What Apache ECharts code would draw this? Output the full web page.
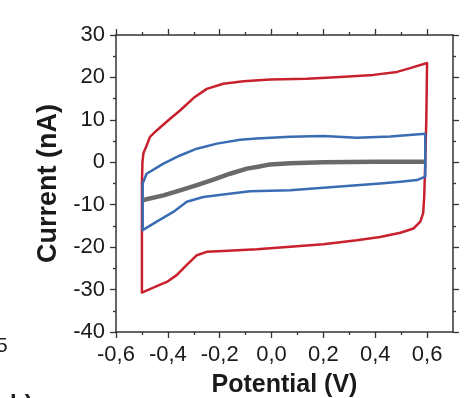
<!DOCTYPE html>
<html>
<head>
<meta charset="utf-8">
<script src="https://cdn.jsdelivr.net/npm/echarts@6/dist/echarts.min.js"></script>
<style>
  html, body { margin: 0; padding: 0; background: #fff; }
  #main { width: 472px; height: 398px; }
</style>
</head>
<body>
<div id="main"></div>
<script>
// potential (V) / current (nA), loop order
const redV = [-0.5, -0.5, -0.498, -0.494, -0.484, -0.469, -0.443, -0.398, -0.353, -0.3, -0.25, -0.186, -0.108, -0.005, 0.136, 0.265, 0.393, 0.484, 0.535, 0.6,
  0.597, 0.593, 0.589, 0.585, 0.574, 0.548, 0.497, 0.419, 0.329, 0.2, 0.072, -0.057, -0.186, -0.25, -0.288, -0.327, -0.366, -0.404, -0.443, -0.5];
const redI = [-30.7, -5, 0, 2.2, 3.6, 6.0, 7.5, 9.9, 12.2, 15.2, 17.3, 18.5, 19.1, 19.5, 19.7, 20.1, 20.6, 21.3, 22.2, 23.4,
  10, 0, -8, -12, -14.0, -15.6, -16.6, -17.6, -18.4, -19.3, -19.9, -20.5, -20.9, -21.1, -21.9, -24.2, -26.6, -28.2, -29.2, -30.7];

const blueV = [-0.497, -0.497, -0.482, -0.417, -0.353, -0.288, -0.211, -0.121, -0.057, 0.072, 0.2, 0.329, 0.458, 0.593,
  0.593, 0.587, 0.561, 0.497, 0.419, 0.329, 0.2, 0.072, -0.083, -0.186, -0.263, -0.327, -0.379, -0.443, -0.497];
const blueI = [-16, -5, -2.7, -0.3, 1.6, 3.2, 4.4, 5.3, 5.6, 6.0, 6.2, 5.8, 6.1, 6.7,
  -3.4, -3.8, -4.2, -4.6, -5.0, -5.4, -6.0, -6.6, -6.8, -7.6, -8.2, -9.3, -11.7, -14.0, -16];

const grayV = [-0.495, -0.417, -0.353, -0.288, -0.224, -0.16, -0.095, -0.057, -0.005, 0.072, 0.2, 0.4, 0.587];
const grayI = [-8.9, -7.8, -6.6, -5.4, -4.1, -2.7, -1.5, -1.1, -0.5, -0.2, 0, 0.1, 0.1];

const xMajor = [-0.6, -0.4, -0.2, 0, 0.2, 0.4, 0.6];
const xMinor = [-0.5, -0.3, -0.1, 0.1, 0.3, 0.5];

const zip = (xs, ys) => xs.map((x, i) => [x, ys[i]]);
const font = 'Liberation Sans, Arial, sans-serif';
const axisColor = '#333';

const xAxisBase = (pos, ticks, len, showLine, showLabel) => ({
  type: 'value', position: pos, min: -0.6, max: 0.7, interval: 0.1,
  splitLine: { show: false },
  axisLine: { show: showLine, onZero: false, lineStyle: { color: axisColor, width: 1.5 } },
  axisTick: { show: true, customValues: ticks, length: len, lineStyle: { color: axisColor, width: 1.3 } },
  axisLabel: {
    show: showLabel, customValues: xMajor, margin: 12,
    color: '#1a1a1a', fontSize: 22, fontFamily: font,
    formatter: v => v.toFixed(1).replace('.', ',')
  }
});

const yAxisBase = (pos, showLabel) => ({
  type: 'value', position: pos, min: -40, max: 30, interval: 10,
  splitLine: { show: false },
  axisLine: { show: true, onZero: false, lineStyle: { color: axisColor, width: 1.5 } },
  axisTick: { show: true, length: 6, lineStyle: { color: axisColor, width: 1.3 } },
  minorTick: { show: true, splitNumber: 2, length: 3, lineStyle: { color: axisColor, width: 1.3 } },
  axisLabel: { show: showLabel, margin: 11, color: '#1a1a1a', fontSize: 22, fontFamily: font }
});

const chart = echarts.init(document.getElementById('main'), null, { renderer: 'canvas' });

const xMain = xAxisBase('bottom', xMajor, 6, true, true);
xMain.name = 'Potential (V)';
xMain.nameLocation = 'middle';
xMain.nameGap = 41;
xMain.nameTextStyle = { fontSize: 25, fontWeight: 'bold', color: '#1a1a1a', fontFamily: font };

const yMain = yAxisBase('left', true);
yMain.name = 'Current (nA)';
yMain.nameLocation = 'middle';
yMain.nameGap = 47;
yMain.nameRotate = 90;
yMain.nameTextStyle = { fontSize: 27, fontWeight: 'bold', color: '#1a1a1a', fontFamily: font };

const line = (data, color, width) => ({
  type: 'line', data: data, xAxisIndex: 0, yAxisIndex: 0,
  symbol: 'none', smooth: false, animation: false,
  lineStyle: { color: color, width: width, join: 'round', cap: 'round' }
});

chart.setOption({
  animation: false,
  grid: { left: 116, right: 19, top: 35, bottom: 66, outerBoundsMode: 'none', containLabel: false },
  xAxis: [
    xMain,
    xAxisBase('bottom', xMinor, 3, false, false),
    xAxisBase('top', xMajor, 6, true, false),
    xAxisBase('top', xMinor, 3, false, false)
  ],
  yAxis: [yMain, yAxisBase('right', false)],
  series: [
    line(zip(redV, redI), '#c8202c', 2.5),
    line(zip(grayV, grayI), '#6a6a6a', 4.5),
    line(zip(blueV, blueI), '#3a6cb4', 2.5)
  ],
  graphic: [
    // bits of the neighbouring panel in the original figure
    { type: 'text', left: -4, top: 336, style: { text: '5', fontSize: 21, fontFamily: font, fill: '#222' } },
    { type: 'text', left: 10, top: 393, style: { text: 'b)', fontSize: 24, fontWeight: 'bold', fontFamily: font, fill: '#222' } }
  ]
});
</script>
</body>
</html>
